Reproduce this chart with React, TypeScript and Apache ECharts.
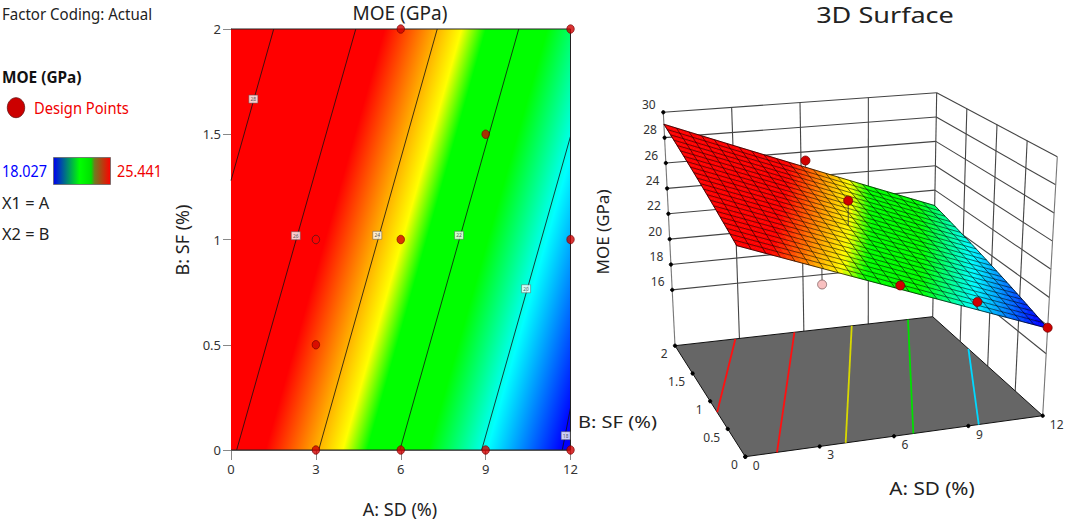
import React, { useEffect, useRef } from 'react';
import * as echarts from 'echarts';

const FONT = '"Noto Sans", sans-serif';

const sdLevels = [0, 3, 6, 9, 12];
const sfLevels = [0, 0.5, 1, 1.5, 2];
const moeAtSf0 = [26.14, 24.06, 21.98, 19.89, 17.81];
const moeAtSf05 = [26.87, 24.79, 22.71, 20.62, 18.54];
const moeAtSf1 = [27.6, 25.52, 23.44, 21.35, 19.27];
const moeAtSf15 = [28.33, 26.25, 24.17, 22.08, 20.0];
const moeAtSf2 = [29.06, 26.98, 24.9, 22.81, 20.73];
const moeRows = [moeAtSf0, moeAtSf05, moeAtSf1, moeAtSf15, moeAtSf2];

// colour scale of the response
const scaleValues = [18.03, 19.85, 21.3, 22.8, 23.4, 24.1, 25.3];
const scaleColors = ['#0000ff', '#00ffff', '#00ff00', '#00ff00', '#ffff00', '#ffa500', '#ff0000'];

// contour lines: level, start and end as [SD, SF]
const contourLevels = [18, 20, 22, 24, 26, 28];
const contourStart = [[11.71, 0], [8.86, 0], [5.97, 0], [3.1, 0], [0.2, 0], [0, 1.28]];
const contourEnd = [[12, 0.2], [12, 1.49], [10.17, 2], [7.29, 2], [4.41, 2], [1.51, 2]];
const contourLabelAt = [[11.83, 0.068], [10.43, 0.766], [8.06, 1.02], [5.17, 1.02], [2.29, 1.018], [0.79, 1.667]];

// coloured lines on the floor of the 3D view
const floorLineStart = [[9.42, 0], [6.78, 0], [4.05, 0], [1.28, 0], [0, 0.8]];
const floorLineEnd = [[12, 1.35], [10.85, 2], [8.23, 2], [5.56, 2], [2.81, 2]];
const floorLineColors = ['#00d8ff', '#00e000', '#d8d800', '#ff1010', '#ff1010'];

// design points
const designSd = [3, 6, 9, 12, 3, 3, 6, 9, 12, 6, 12];
const designSf = [0, 0, 0, 0, 0.5, 1, 1, 1.5, 1, 2, 2];

// design points visible in the 3D view
const visibleSd = [6.2, 6, 6.2, 9.2, 12];
const visibleSf = [2, 1, 0, 0, 0];
const visibleMoe = [25.3, 25.3, 22.1, 20.3, 17.85];
const belowSd = [3.2];
const belowSf = [0];
const belowMoe = [22.8];

const zTicks = [16, 18, 20, 22, 24, 26, 28, 30];
const sdTicks = [0, 3, 6, 9, 12];
const sfTicks = [0, 0.5, 1, 1.5, 2];

// box of the 3D view on the page: [SD 0 / SF 0, SD 12 / SF 0, SD 0 / SF 2, SD 12 / SF 2]
const floorBox = [[745.3, 456.7], [1042.7, 415.7], [675, 345.7], [932.7, 316.7]];
const roofBox = [[734.4, 189.6], [1057.3, 156.7], [663.3, 112.3], [936.7, 92.7]];
const FLOOR_Z = 11.6;
const ROOF_Z = 30;
const MESH = 22;

function lerp(a: number, b: number, t: number) {
  return a + (b - a) * t;
}

function project(sd: number, sf: number, z: number) {
  const u = sd / 12;
  const v = sf / 2;
  const t = (z - FLOOR_Z) / (ROOF_Z - FLOOR_Z);
  const corner = (box: number[][], k: number) =>
    lerp(lerp(box[0][k], box[1][k], u), lerp(box[2][k], box[3][k], u), v);
  return [lerp(corner(floorBox, 0), corner(roofBox, 0), t), lerp(corner(floorBox, 1), corner(roofBox, 1), t)];
}

function moeAt(sd: number, sf: number) {
  const i = Math.min(Math.floor(sd / 3), sdLevels.length - 2);
  const j = Math.min(Math.floor(sf / 0.5), sfLevels.length - 2);
  const u = (sd - sdLevels[i]) / 3;
  const v = (sf - sfLevels[j]) / 0.5;
  return lerp(lerp(moeRows[j][i], moeRows[j][i + 1], u), lerp(moeRows[j + 1][i], moeRows[j + 1][i + 1], u), v);
}

function hexToRgb(hex: string) {
  return [parseInt(hex.slice(1, 3), 16), parseInt(hex.slice(3, 5), 16), parseInt(hex.slice(5, 7), 16)];
}

function scaleColor(v: number) {
  if (v <= scaleValues[0]) return scaleColors[0];
  for (let i = 1; i < scaleValues.length; i++) {
    if (v <= scaleValues[i]) {
      const t = (v - scaleValues[i - 1]) / (scaleValues[i] - scaleValues[i - 1]);
      const a = hexToRgb(scaleColors[i - 1]);
      const b = hexToRgb(scaleColors[i]);
      return `rgb(${Math.round(lerp(a[0], b[0], t))},${Math.round(lerp(a[1], b[1], t))},${Math.round(lerp(a[2], b[2], t))})`;
    }
  }
  return scaleColors[scaleColors.length - 1];
}

// one cell of the contour plot, filled with a gradient along the slope of the response
function renderContourCell(_params: any, api: any) {
  const i = api.value(0);
  const j = api.value(1);
  const p0 = api.coord([sdLevels[i], sfLevels[j]]);
  const p1 = api.coord([sdLevels[i + 1], sfLevels[j + 1]]);
  const x0 = Math.round(p0[0]);
  const x1 = Math.round(p1[0]);
  const y0 = Math.round(p1[1]);
  const y1 = Math.round(p0[1]);
  const v00 = moeRows[j][i];
  const v10 = moeRows[j][i + 1];
  const v01 = moeRows[j + 1][i];
  const v11 = moeRows[j + 1][i + 1];
  const gx = (v10 - v00) / (p1[0] - p0[0]);
  const gy = (v01 - v00) / (p1[1] - p0[1]);
  const g2 = gx * gx + gy * gy;
  const min = Math.min(v00, v10, v01, v11);
  const max = Math.max(v00, v10, v01, v11);
  const cx = (p0[0] + p1[0]) / 2;
  const cy = (p0[1] + p1[1]) / 2;
  const vc = (v00 + v10 + v01 + v11) / 4;
  const stops = [{ offset: 0, color: scaleColor(min) }];
  scaleValues.forEach((v, k) => {
    if (v > min && v < max) stops.push({ offset: (v - min) / (max - min), color: scaleColors[k] });
  });
  stops.push({ offset: 1, color: scaleColor(max) });
  return {
    type: 'rect',
    shape: { x: x0, y: y0, width: x1 - x0, height: y1 - y0 },
    style: {
      fill: new echarts.graphic.LinearGradient(
        cx + (gx * (min - vc)) / g2,
        cy + (gy * (min - vc)) / g2,
        cx + (gx * (max - vc)) / g2,
        cy + (gy * (max - vc)) / g2,
        stops,
        true
      ),
    },
    silent: true,
  };
}

function line3d(api: any, a: number[], b: number[], stroke: string, lineWidth: number) {
  const p = api.coord(project(a[0], a[1], a[2]));
  const q = api.coord(project(b[0], b[1], b[2]));
  return { type: 'line', shape: { x1: p[0], y1: p[1], x2: q[0], y2: q[1] }, style: { stroke, lineWidth }, silent: true };
}

function dot3d(api: any, sd: number, sf: number, z: number, r: number, fill: string, stroke: string) {
  const p = api.coord(project(sd, sf, z));
  return { type: 'circle', shape: { cx: p[0], cy: p[1], r }, style: { fill, stroke, lineWidth: 0.8 }, silent: true };
}

function label3d(api: any, pos: number[], dx: number, dy: number, text: string, align: string, fontSize = 12) {
  const p = api.coord(project(pos[0], pos[1], pos[2]));
  return {
    type: 'text',
    x: p[0] + dx,
    y: p[1] + dy,
    style: { text, fill: '#333333', fontSize, fontFamily: FONT, align, verticalAlign: 'middle' },
    silent: true,
  };
}

function renderWalls(_params: any, api: any) {
  const children: any[] = [];
  const wall = '#444444';
  zTicks.forEach(z => {
    children.push(line3d(api, [0, 2, z], [12, 2, z], wall, 1.1));
    children.push(line3d(api, [12, 2, z], [12, 0, z], wall, 1.1));
  });
  sdTicks.forEach(sd => children.push(line3d(api, [sd, 2, FLOOR_Z], [sd, 2, ROOF_Z], sd === 0 ? '#777777' : wall, 1.1)));
  sfTicks.slice(0, 4).forEach(sf => children.push(line3d(api, [12, sf, FLOOR_Z], [12, sf, ROOF_Z], sf === 0 ? '#777777' : wall, 1.1)));
  return { type: 'group', children };
}

function renderFloor(_params: any, api: any) {
  const corners = [[0, 0], [12, 0], [12, 2], [0, 2]].map(c => api.coord(project(c[0], c[1], FLOOR_Z)));
  const children: any[] = [
    { type: 'polygon', shape: { points: corners }, style: { fill: '#666666', stroke: '#111111', lineWidth: 1 }, silent: true },
  ];
  floorLineColors.forEach((color, k) => {
    children.push(
      line3d(api, [floorLineStart[k][0], floorLineStart[k][1], FLOOR_Z], [floorLineEnd[k][0], floorLineEnd[k][1], FLOOR_Z], color, 1.8)
    );
  });
  sdTicks.forEach(sd => {
    children.push(dot3d(api, sd, 0, FLOOR_Z, 1.7, '#000000', '#000000'));
    children.push(label3d(api, [sd, 0, FLOOR_Z], sd === 12 ? 14 : 11, 8.4, String(sd), 'center'));
  });
  sfTicks.forEach(sf => {
    children.push(dot3d(api, 0, sf, FLOOR_Z, 1.7, '#000000', '#000000'));
    children.push(label3d(api, [0, sf, FLOOR_Z], -7.5, 8.2, String(sf), 'right'));
  });
  zTicks.forEach(z => {
    children.push(dot3d(api, 0, 2, z, 1.7, '#000000', '#000000'));
    children.push(label3d(api, [0, 2, z], -14.5, -8, String(z), 'center'));
  });
  return { type: 'group', children };
}

function renderBelowPoints(_params: any, api: any) {
  const children: any[] = [];
  belowSd.forEach((sd, k) => {
    children.push(line3d(api, [sd, belowSf[k], belowMoe[k]], [sd, belowSf[k], moeAt(sd, belowSf[k])], '#444444', 1));
    children.push(dot3d(api, sd, belowSf[k], belowMoe[k], 4.5, '#f8c0c0', '#806060'));
  });
  return { type: 'group', children };
}

function renderSurface(_params: any, api: any) {
  const children: any[] = [];
  const steps = MESH * 2;
  const at = (i: number, j: number) => {
    const sd = (12 * i) / steps;
    const sf = (2 * j) / steps;
    return api.coord(project(sd, sf, moeAt(sd, sf)));
  };
  for (let j = 0; j < steps; j++) {
    for (let i = 0; i < steps; i++) {
      const color = scaleColor(moeAt((12 * (i + 0.5)) / steps, (2 * (j + 0.5)) / steps));
      children.push({
        type: 'polygon',
        shape: { points: [at(i, j), at(i + 1, j), at(i + 1, j + 1), at(i, j + 1)] },
        style: { fill: color, stroke: color, lineWidth: 0.6 },
        silent: true,
      });
    }
  }
  for (let k = 0; k <= MESH; k++) {
    const alongSf: number[][] = [];
    const alongSd: number[][] = [];
    for (let m = 0; m <= MESH; m++) {
      alongSf.push(at(k * 2, m * 2));
      alongSd.push(at(m * 2, k * 2));
    }
    const edge = k === 0 || k === MESH;
    const stroke = 'rgba(0,0,0,0.8)';
    children.push({ type: 'polyline', shape: { points: alongSf }, style: { fill: 'none', stroke, lineWidth: edge ? 0.9 : 0.7 }, silent: true });
    children.push({ type: 'polyline', shape: { points: alongSd }, style: { fill: 'none', stroke, lineWidth: edge ? 0.9 : 0.7 }, silent: true });
  }
  return { type: 'group', children };
}

function renderVisiblePoints(_params: any, api: any) {
  const children: any[] = [];
  visibleSd.forEach((sd, k) => {
    const sf = visibleSf[k];
    children.push(line3d(api, [sd, sf, visibleMoe[k]], [sd, sf, moeAt(sd, sf)], '#333333', 0.8));
  });
  visibleSd.forEach((sd, k) => {
    children.push(dot3d(api, sd, visibleSf[k], visibleMoe[k], 4.5, '#d00000', '#700000'));
  });
  return { type: 'group', children };
}

const App: React.FC = () => {
  const chartRef = useRef<HTMLDivElement>(null);

  useEffect(() => {
    if (!chartRef.current) return;
    const chart = echarts.init(chartRef.current, undefined, { renderer: 'svg' });

    const cells: number[][] = [];
    for (let j = 0; j < sfLevels.length - 1; j++) {
      for (let i = 0; i < sdLevels.length - 1; i++) cells.push([i, j]);
    }

    const view3d = { type: 'custom', coordinateSystem: 'cartesian2d', xAxisIndex: 1, yAxisIndex: 1, clip: false, data: [[0, 0]] };
    // the reference text is squeezed or stretched, so each text gets its own horizontal scale
    const text = (t: string, x: number, y: number, fontSize: number, scaleX = 1, fill = '#222222', extra: any = {}) => ({
      type: 'text',
      x,
      y,
      scaleX,
      silent: true,
      style: { text: t, fontSize, fontFamily: FONT, fill, align: 'left', verticalAlign: 'middle', ...extra },
    });
    const center = { align: 'center' };

    const option = {
      animation: false,
      backgroundColor: '#ffffff',
      grid: [
        { left: 231, top: 29, width: 339.5, height: 421 },
        { left: 0, top: 0, width: 1065, height: 522 },
      ],
      xAxis: [
        {
          type: 'value',
          gridIndex: 0,
          min: 0,
          max: 12,
          interval: 3,
          splitLine: { show: false },
          axisLine: { show: true, onZero: false, lineStyle: { color: '#888888' } },
          axisTick: { show: true, length: 10, lineStyle: { color: '#888888' } },
          axisLabel: { color: '#333333', fontSize: 13, fontFamily: FONT, margin: 12 },
        },
        { type: 'value', gridIndex: 1, min: 0, max: 1065, show: false },
      ],
      yAxis: [
        {
          type: 'value',
          gridIndex: 0,
          min: 0,
          max: 2,
          interval: 0.5,
          splitLine: { show: false },
          axisLine: { show: true, onZero: false, lineStyle: { color: '#888888' } },
          axisTick: { show: true, length: 8, lineStyle: { color: '#888888' } },
          axisLabel: { color: '#333333', fontSize: 13, fontFamily: FONT, margin: 10 },
        },
        { type: 'value', gridIndex: 1, min: 0, max: 522, inverse: true, show: false },
      ],
      series: [
        { type: 'custom', name: 'MOE', renderItem: renderContourCell, data: cells, clip: false, z: 1 },
        ...contourLevels.map((level, k) => ({
          type: 'line',
          name: `contour ${level}`,
          data: [contourStart[k], contourEnd[k]],
          showSymbol: false,
          clip: false,
          silent: true,
          lineStyle: { color: '#111111', width: 0.8 },
          z: 2,
        })),
        {
          type: 'line',
          name: 'frame',
          data: [[0, 2], [12, 2], [12, 0], [0, 0]],
          showSymbol: false,
          clip: false,
          silent: true,
          lineStyle: { color: '#222222', width: 1 },
          z: 3,
        },
        {
          type: 'scatter',
          name: 'contour labels',
          data: contourLabelAt,
          symbol: 'rect',
          symbolSize: [9, 8],
          clip: false,
          silent: true,
          itemStyle: { color: '#ffffff', borderColor: '#555555', borderWidth: 0.6 },
          label: {
            show: true,
            position: 'inside',
            fontSize: 5,
            color: '#333333',
            fontFamily: FONT,
            formatter: (p: any) => String(contourLevels[p.dataIndex]),
          },
          z: 4,
        },
        {
          type: 'scatter',
          name: 'Design Points',
          data: designSd.map((sd, k) =>
            sd === 3 && designSf[k] === 1
              ? { value: [sd, designSf[k]], itemStyle: { color: '#ff0000', borderColor: '#222222' } }
              : [sd, designSf[k]]
          ),
          symbol: 'circle',
          symbolSize: [7.5, 8.5],
          clip: false,
          silent: true,
          itemStyle: { color: '#d00000', borderColor: '#700000', borderWidth: 0.8 },
          z: 5,
        },
        { ...view3d, name: 'walls', renderItem: renderWalls, z: 1 },
        { ...view3d, name: 'floor', renderItem: renderFloor, z: 2 },
        { ...view3d, name: 'below', renderItem: renderBelowPoints, z: 3 },
        { ...view3d, name: 'surface', renderItem: renderSurface, z: 4 },
        { ...view3d, name: 'points', renderItem: renderVisiblePoints, z: 5 },
      ],
      graphic: [
        text('Factor Coding: Actual', 2, 14, 16, 0.94),
        text('MOE (GPa)', 2, 77, 16, 0.96, '#111111', { fontWeight: 'bold' }),
        {
          type: 'ellipse',
          silent: true,
          shape: { cx: 16, cy: 107.7, rx: 8.7, ry: 10 },
          style: { fill: '#cc0000', stroke: '#661010', lineWidth: 0.8 },
        },
        text('Design Points', 34, 108, 16, 0.92, '#f00000'),
        text('18.027', 2, 171, 16, 0.9, '#0000ff'),
        {
          type: 'rect',
          silent: true,
          shape: { x: 53.5, y: 157.5, width: 57, height: 27 },
          style: {
            fill: new echarts.graphic.LinearGradient(0, 0, 1, 0, [
              { offset: 0, color: '#0000f0' },
              { offset: 0.46, color: '#00ff00' },
              { offset: 0.66, color: '#00e000' },
              { offset: 0.72, color: '#707a20' },
              { offset: 1, color: '#ff0000' },
            ]),
            stroke: '#666666',
            lineWidth: 0.8,
          },
        },
        text('25.441', 117, 171, 16, 0.9, '#f00000'),
        text('X1 = A', 2, 203, 16, 1.02),
        text('X2 = B', 2, 234, 16, 1.02),
        text('MOE (GPa)', 400, 13, 19, 1, '#222222', center),
        text('A: SD (%)', 400, 509, 18, 1, '#222222', center),
        { ...text('B: SF (%)', 182, 240, 18, 1, '#222222', center), rotation: Math.PI / 2 },
        text('B: SF (%)', 578, 421, 17, 1.18),
        text('3D Surface', 885, 15, 22, 1.23, '#222222', center),
        { ...text('MOE (GPa)', 602, 232, 17, 1, '#222222', center), rotation: Math.PI / 2 },
        text('A: SD (%)', 932, 489, 17.5, 1.18, '#222222', center),
      ],
    };

    chart.setOption(option as any);
    return () => {
      chart.dispose();
    };
  }, []);

  return <div ref={chartRef} style={{ position: 'fixed', left: 0, top: 0, width: 1065, height: 522 }}></div>;
};

export default App;
